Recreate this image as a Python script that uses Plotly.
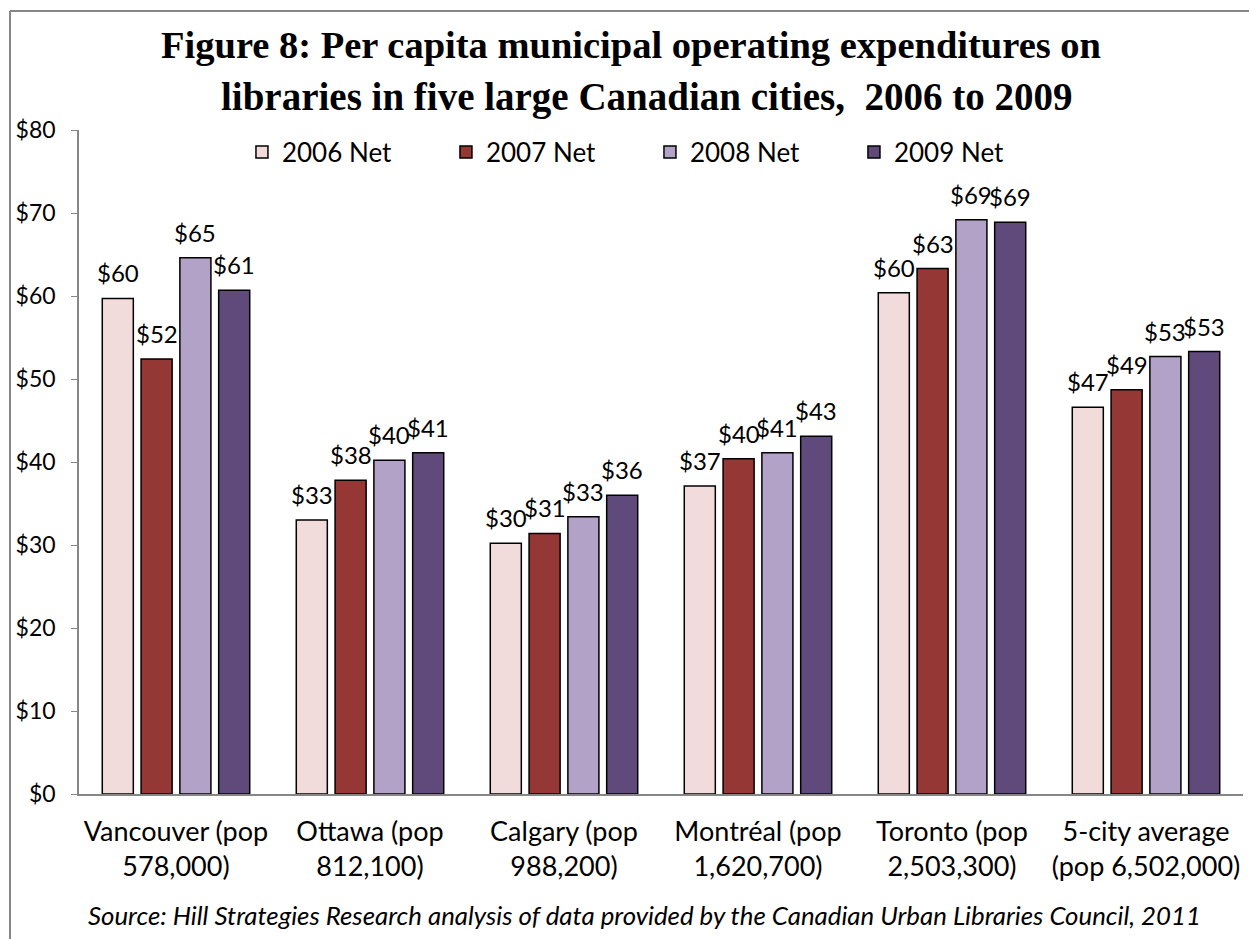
import plotly.graph_objects as go

# Categories (two-line tick labels) and per-capita spending by year
cities = [
    "Vancouver (pop<br>578,000)",
    "Ottawa (pop<br>812,100)",
    "Calgary (pop<br>988,200)",
    "Montréal (pop<br>1,620,700)",
    "Toronto (pop<br>2,503,300)",
    "5-city average<br>(pop 6,502,000)",
]
net_2006 = [59.7, 33.0, 30.2, 37.1, 60.4, 46.6]
net_2007 = [52.4, 37.8, 31.4, 40.4, 63.3, 48.7]
net_2008 = [64.6, 40.2, 33.4, 41.1, 69.2, 52.7]
net_2009 = [60.7, 41.1, 36.0, 43.1, 68.9, 53.3]

series_names = ["2006 Net", "2007 Net", "2008 Net", "2009 Net"]
series_values = [net_2006, net_2007, net_2008, net_2009]
series_colors = ["#F2DCDB", "#953735", "#B3A2C7", "#604A7B"]

SANS = "Lato, 'Open Sans', sans-serif"
SERIF = "'Liberation Serif', 'DejaVu Serif', serif"

# Layout geometry (pixels)
FIG_W, FIG_H = 1249, 939
M_L, M_R, M_T, M_B = 79, 6, 130, 145
PLOT_W = FIG_W - M_L - M_R
BARGAP = 0.2
SLOT = PLOT_W / len(cities) * (1 - BARGAP) / len(series_names)

fig = go.Figure()
for name, vals, color in zip(series_names, series_values, series_colors):
    fig.add_trace(go.Bar(
        x=cities,
        y=vals,
        name=name,
        marker=dict(color=color, line=dict(color="#000000", width=1.5)),
        cliponaxis=False,
    ))

# Value labels above each bar
for i, vals in enumerate(series_values):
    dx = (i - (len(series_names) - 1) / 2) * SLOT
    for city, v in zip(cities, vals):
        fig.add_annotation(
            x=city, y=v, xref="x", yref="y",
            text=f"${v:.0f}",
            showarrow=False, xanchor="center", yanchor="bottom",
            xshift=dx, yshift=9,
            font=dict(family=SANS, size=24, color="#000000"),
        )

fig.update_layout(
    width=FIG_W,
    height=FIG_H,
    margin=dict(l=M_L, r=M_R, t=M_T, b=M_B),
    paper_bgcolor="white",
    plot_bgcolor="white",
    barmode="group",
    bargap=BARGAP,
    bargroupgap=0.2,
    showlegend=True,
    legend=dict(
        orientation="h",
        x=0.14, y=(794 - 152) / 664, xanchor="left", yanchor="middle",
        font=dict(family=SANS, size=26, color="#000000"),
        entrywidth=159, entrywidthmode="pixels",
        itemwidth=30,
        bgcolor="rgba(0,0,0,0)",
        traceorder="normal",
    ),
    font=dict(family=SANS, color="#000000"),
)

fig.update_yaxes(
    range=[0, 80],
    dtick=10,
    tickprefix="$",
    showgrid=False,
    zeroline=False,
    showline=True,
    linecolor="#868686",
    linewidth=1.5,
    ticks="outside",
    ticklen=6,
    tickcolor="#868686",
    ticklabelstandoff=11,
    tickfont=dict(family=SANS, size=23, color="#000000"),
)
fig.update_xaxes(
    showgrid=False,
    showline=True,
    linecolor="#868686",
    linewidth=1.5,
    ticks="",
    ticklabelstandoff=13,
    tickfont=dict(family=SANS, size=27, color="#000000"),
)

# Two-line title
fig.add_annotation(
    text="<b>Figure 8: Per capita municipal operating expenditures on</b>",
    xref="paper", yref="paper", x=(631 - 79) / 1164, y=(794 - 45) / 664,
    xanchor="center", yanchor="middle", showarrow=False,
    font=dict(family=SERIF, size=38.5, color="#000000"),
)
fig.add_annotation(
    text="<b>libraries in five large Canadian cities,  2006 to 2009</b>",
    xref="paper", yref="paper", x=(646 - 79) / 1164, y=(794 - 97) / 664,
    xanchor="center", yanchor="middle", showarrow=False,
    font=dict(family=SERIF, size=39, color="#000000"),
)

# Source note
fig.add_annotation(
    text="<i>Source: Hill Strategies Research analysis of data provided by the Canadian Urban Libraries Council, 2011</i>",
    xref="paper", yref="paper", x=(644 - 79) / 1164, y=(794 - 915) / 664,
    xanchor="center", yanchor="middle", showarrow=False,
    font=dict(family=SANS, size=25.8, color="#000000"),
)

# Outer frame: top and left border lines
fig.add_shape(type="line", xref="paper", yref="paper",
              x0=(10 - 79) / 1164, x1=(1260 - 79) / 1164,
              y0=(794 - 11) / 664, y1=(794 - 11) / 664,
              line=dict(color="#868686", width=2))
fig.add_shape(type="line", xref="paper", yref="paper",
              x0=(10 - 79) / 1164, x1=(10 - 79) / 1164,
              y0=(794 - 11) / 664, y1=(794 - 950) / 664,
              line=dict(color="#868686", width=2))

fig.write_html("out.html")
